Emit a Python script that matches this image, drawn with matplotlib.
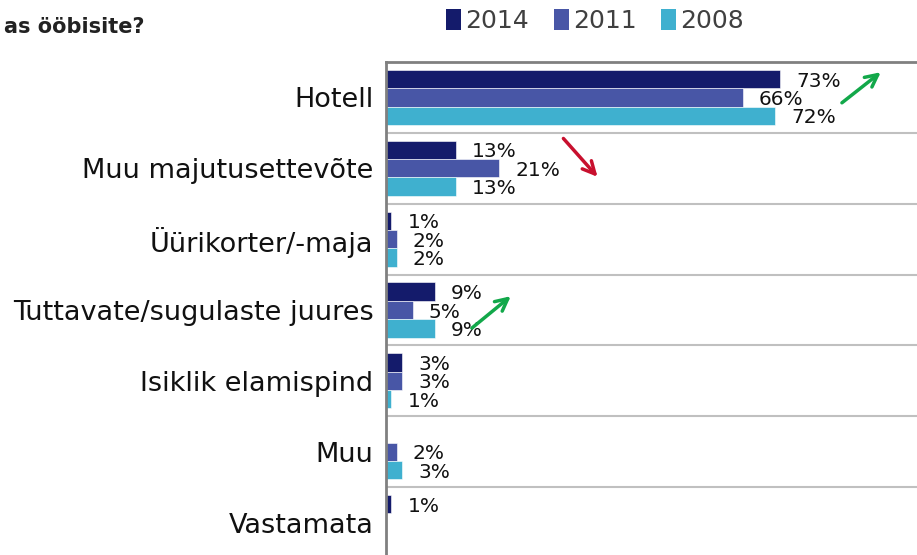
import numpy as np
import matplotlib
matplotlib.use("Agg")
import matplotlib.pyplot as plt
from matplotlib.patches import Patch

categories = ["Hotell", "Muu majutusettevõte", "Üürikorter/-maja",
              "Tuttavate/sugulaste juures", "Isiklik elamispind", "Muu", "Vastamata"]
years = ["2014", "2011", "2008"]
v2014 = [73, 13, 1, 9, 3, np.nan, 1]
v2011 = [66, 21, 2, 5, 3, 2, np.nan]
v2008 = [72, 13, 2, 9, 1, 3, np.nan]
colors = ["#141b6b", "#4856a6", "#3fb0cf"]

# trend arrows: (category index, start x, start dy, end x, end dy, colour)
arrows = [
    (0, 84, 0.10, 92, -0.38, "#12a84a"),
    (1, 32.5, -0.45, 39.5, 0.15, "#c8102e"),
    (3, 15.5, 0.28, 23.5, -0.22, "#12a84a"),
]

fig = plt.figure(figsize=(9.17, 5.55), dpi=100)
ax = fig.add_axes([386 / 917, -3 / 555, 531 / 917, 496 / 555])

y = np.arange(len(categories))
h = 0.26
for k, (vals, c) in enumerate(zip([v2014, v2011, v2008], colors)):
    yy = y + (k - 1) * h
    ax.barh(yy, vals, height=h, color=c, edgecolor="white", linewidth=0.4)
    for yi, v in zip(yy, vals):
        if np.isnan(v):
            continue
        ax.annotate(f"{v:.0f}%", (v, yi), xytext=(11.5, -1.5), textcoords="offset points",
                    ha="left", va="center", fontsize=14.5, color="#111111")

for ci, x0, dy0, x1, dy1, c in arrows:
    ax.annotate("", xy=(x1, ci + dy1), xytext=(x0, ci + dy0),
                arrowprops=dict(arrowstyle="->", color=c, lw=2.5, mutation_scale=22))

ax.set_xlim(0, 98.3)
ax.set_ylim(len(categories) - 0.5, -0.5)
ax.set_yticks(y)
ax.set_yticklabels(categories, fontsize=19.5, color="#111111")
ax.tick_params(axis="y", length=0, pad=9)
ax.set_xticks([])
for b in np.arange(0.5, len(categories) - 0.5, 1):
    ax.axhline(b, color="#c0c0c0", lw=1.5, zorder=0)

for s in ["right", "bottom"]:
    ax.spines[s].set_visible(False)
ax.spines["left"].set_color("#808080")
ax.spines["left"].set_linewidth(2)
ax.spines["top"].set_color("#808080")
ax.spines["top"].set_linewidth(2)

handles = [Patch(facecolor=c, label=yr) for c, yr in zip(colors, years)]
fig.legend(handles=handles, loc="center", bbox_to_anchor=(0.649, 0.962), ncol=3,
           frameon=False, handlelength=0.6, handleheight=0.9, handletextpad=0.15,
           columnspacing=1.0, borderaxespad=0,
           prop={"family": ["Liberation Sans Narrow", "DejaVu Sans"], "size": 18},
           labelcolor="#404040")

fig.text(0.004, 0.952, "as ööbisite?", fontsize=15, fontweight="bold",
         family="DejaVu Sans", color="#222222", ha="left", va="center")

fig.savefig("out.png", dpi=100)
